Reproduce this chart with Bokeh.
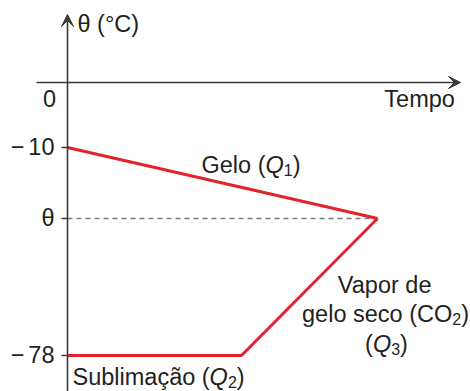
from bokeh.plotting import figure
from bokeh.models import Range1d, Arrow, VeeHead
from bokeh.core.properties import value
from bokeh.embed import file_html
from bokeh.resources import INLINE

# ---- data (schematic heating diagram, not to scale) ----
level_labels = ["\u221210", "\u03b8", "\u221278"]       # tick labels on the temperature axis
level_temp = [-65, -136, -273]                          # schematic temperature levels (diagram units)
ice_time = [0, 310]                                     # Gelo (Q1): -10 -> theta
ice_temp = [-65, -136]
co2_time = [0, 174, 310]                                # Sublimacao (Q2), then vapor (Q3) -> theta
co2_temp = [-273, -273, -136]
eq_time = 310                                           # equilibrium time
eq_temp = -136                                          # equilibrium temperature theta

FONT = "Liberation Sans"
FS = 23.5
SUB = 16
TXT = "#231f20"
RED = "#e3222b"
AX = "#3a3a3a"
DY = 9  # baseline correction

W = {' ': 278, '(': 333, ')': 333, '0': 556, '1': 556, '2': 556, '3': 556, '7': 556, '8': 556,
     '\u2212': 584, '\u03b8': 556, '\u00b0': 400, 'C': 722, 'G': 778, 'O': 778, 'Q': 778, 'S': 667,
     'T': 611, 'V': 667, 'a': 556, 'b': 556, 'c': 500, '\u00e7': 500, '\u00e3': 556, 'd': 556,
     'e': 556, 'g': 556, 'i': 222, 'l': 222, 'm': 833, 'o': 556, 'p': 556, 'r': 333, 's': 500, 'u': 556}


def tw(s, size):
    return sum(W.get(c, 556) for c in s) * size / 1000.0


p = figure(width=470, height=391, x_range=Range1d(-67, 403), y_range=Range1d(-309, 82),
           output_backend="svg", toolbar_location=None, min_border=0,
           x_axis_type=None, y_axis_type=None)
p.outline_line_color = None
p.background_fill_color = "white"
p.border_fill_color = "white"


def runs(x, y, parts, align="left"):
    sizes = [SUB if k == "sub" else FS for _, k in parts]
    widths = [4 if k == "gap" else tw(t, s) for (t, k), s in zip(parts, sizes)]
    total = sum(widths)
    if align == "center":
        cx = x - total / 2
    elif align == "right":
        cx = x - total
    else:
        cx = x
    y = y + DY
    for (t, k), s, w in zip(parts, sizes, widths):
        if k != "gap":
            p.text(x=[cx], y=[y - 5 if k == "sub" else y], text=[t],
                   text_font=value(FONT), text_font_size=f"{s}px",
                   text_font_style="italic" if k == "i" else "normal",
                   text_align="left", text_baseline="alphabetic", text_color=TXT)
        cx += w


# axes with arrows
p.add_layout(Arrow(end=VeeHead(size=12, fill_color=AX, line_color=AX, line_width=1),
                   x_start=0, y_start=-309, x_end=0, y_end=68, line_color=AX, line_width=1.6))
p.add_layout(Arrow(end=VeeHead(size=12, fill_color=AX, line_color=AX, line_width=1),
                   x_start=-31, y_start=0, x_end=393, y_end=0, line_color=AX, line_width=1.6))

# tick marks
p.segment(x0=[-6] * len(level_temp), y0=level_temp, x1=[0] * len(level_temp), y1=level_temp,
          line_color=AX, line_width=1.4)

# dashed equilibrium line
p.line(x=[0, eq_time], y=[eq_temp, eq_temp], line_color="#7a7a7a", line_width=1.5, line_dash="5 4")

# curves
p.line(x=ice_time, y=ice_temp, line_color=RED, line_width=3)
p.line(x=co2_time, y=co2_temp, line_color=RED, line_width=3)

# tick labels
for lab, t in zip(level_labels, level_temp):
    if lab.startswith("\u2212"):
        parts = [("\u2212", "n"), ("", "gap"), (lab[1:], "n")]
    else:
        parts = [(lab, "n")]
    runs(-13, t - 8, parts, align="right")
runs(-18, -25, [("0", "n")], align="center")
runs(390, -25, [("Tempo", "n")], align="right")
runs(10, 50, [("\u03b8 (\u00b0C)", "n")])

# annotations
runs(134, -91, [("Gelo (", "n"), ("Q", "i"), ("1", "sub"), (")", "n")])
runs(318, -211, [("Vapor de", "n")], align="center")
runs(318, -240, [("gelo seco (CO", "n"), ("2", "sub"), (")", "n")], align="center")
runs(319, -270, [("(", "n"), ("Q", "i"), ("3", "sub"), (")", "n")], align="center")
runs(5, -303, [("Sublima\u00e7\u00e3o (", "n"), ("Q", "i"), ("2", "sub"), (")", "n")])

open("out.html", "w").write(file_html(p, INLINE))
